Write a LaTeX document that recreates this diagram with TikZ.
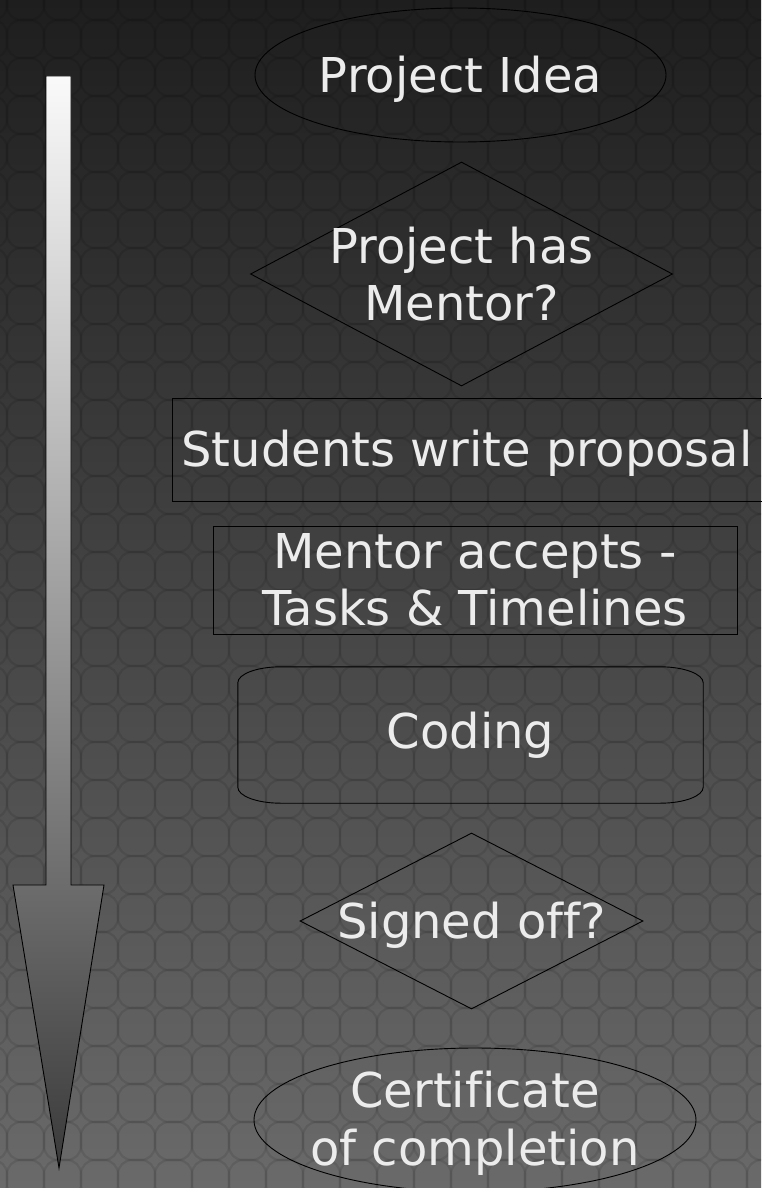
\documentclass[tikz,border=0pt]{standalone}
\usepackage{fontspec}
\setmainfont{DejaVu Sans}[Ligatures=NoCommon]
\usetikzlibrary{shapes.geometric}
\definecolor{bgtop}{HTML}{1E1E1E}
\definecolor{bgbottom}{HTML}{6A6A6A}
\definecolor{labelgray}{HTML}{ECECEC}
\begin{document}
\begin{tikzpicture}[x=1pt, y=-1pt,
  every node/.style={text=labelgray, font=\fontsize{48}{57.6}\selectfont, align=center},
  tile/.style={draw=black, opacity=.09, line width=2.2pt, rounded corners=14pt},
  outline/.style={draw=black, line width=.9pt},
  terminal/.style={outline, ellipse, inner xsep=-150pt, inner ysep=-60pt},
  decision/.style={outline, diamond, inner xsep=-150pt, inner ysep=-60pt},
  process/.style={outline, rectangle, inner sep=0pt},
  lower/.style={text height=44.5pt}]
  % background with tiles
  \useasboundingbox (0,0) rectangle (761,1188);
  \shade [top color=bgtop, bottom color=bgbottom] (0,0) rectangle (761,1188);
  \begin{scope}
    \clip (0,0) rectangle (761,1188);
    \foreach \i in {-1,...,20}
      \foreach \j in {-1,...,31}
        \draw [tile] ({7+37*\i},{20+38*\j}) rectangle ++(37,38);
  \end{scope}
  % timeline arrow
  \draw [outline, top color=white!98!black, bottom color=black!77]
    (46,76) -- (71,76) -- (71,885) -- (104,885) -- (59,1168) -- (13,885) -- (46,885) -- cycle;
  % steps
  \node [terminal, lower, minimum width=411pt, minimum height=134pt] (idea) at (460.5,75) {Project Idea};
  \node [decision, minimum width=422pt, minimum height=224pt] (hasmentor) at (461.5,274) {Project has\\Mentor?};
  \node [process, lower, minimum width=590pt, minimum height=103pt] (proposal) at (467,449.5) {Students write proposal};
  \node [process, minimum width=524pt, minimum height=108pt] (accepts) at (475,580) {Mentor accepts -\\Tasks \& Timelines};
  \node [minimum width=465pt, minimum height=136pt, inner sep=0pt] (coding) at (470.5,735) {Coding};
  \draw [outline] ([xshift=43pt]coding.north west) -- ([xshift=-43pt]coding.north east)
    arc [start angle=90, end angle=0, x radius=43pt, y radius=16pt] -- ([yshift=16pt]coding.south east)
    arc [start angle=0, end angle=-90, x radius=43pt, y radius=16pt] -- ([xshift=43pt]coding.south west)
    arc [start angle=270, end angle=180, x radius=43pt, y radius=16pt] -- ([yshift=-16pt]coding.north west)
    arc [start angle=180, end angle=90, x radius=43pt, y radius=16pt] -- cycle;
  \node [decision, lower, minimum width=343pt, minimum height=176pt] (signoff) at (471.5,921) {Signed off?};
  \node [terminal, text depth=3pt, minimum width=442pt, minimum height=144pt] (certificate) at (475,1120) {Certificate\\of completion};
\end{tikzpicture}
\end{document}
